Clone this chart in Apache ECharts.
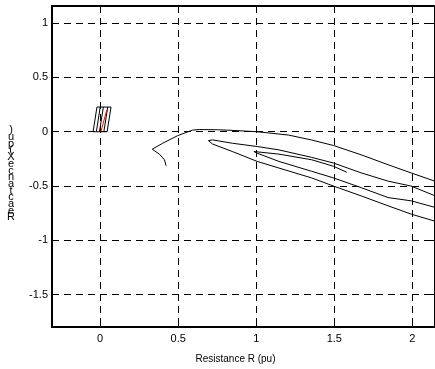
<!DOCTYPE html>
<html>
<head>
<meta charset="utf-8">
<script src="https://cdn.jsdelivr.net/npm/echarts@6/dist/echarts.min.js"></script>
<style>
  html, body { margin: 0; padding: 0; background: #fff; }
  #chart { width: 435px; height: 369px; }
</style>
</head>
<body>
<div id="chart"></div>
<script>
// Axis extents (pu)
const xMin = -0.308, xMax = 2.145;
const yMin = -1.797, yMax = 1.157;

const xTitle = 'Resistance R (pu)';
const yTitle = 'Reactance X (pu)';

// Apparent impedance trajectory: resistance and reactance samples (pu)
const trajR = [
  0.423, 0.412, 0.380, 0.334, 0.401, 0.497, 0.592, 0.635, 0.75, 0.826,
  1.006, 1.208, 1.355, 1.495, 1.673, 1.845, 1.992, 2.132,
  2.25, 2.29, 2.25,
  2.132, 1.992, 1.845, 1.673, 1.495, 1.355, 1.145, 1.006, 0.847, 0.72,
  0.694,
  0.72, 0.847, 1.006, 1.145, 1.355, 1.495, 1.673, 1.845, 1.992, 2.132,
  2.25, 2.29, 2.25,
  2.132, 1.992, 1.845, 1.673, 1.495, 1.355, 1.145, 1.006,
  0.985,
  1.145, 1.355, 1.495, 1.58
];
const trajX = [
  -0.313, -0.258, -0.206, -0.161, -0.106, -0.036, 0.015, 0.020, 0.018, 0.014,
  0.0, -0.031, -0.076, -0.127, -0.213, -0.304, -0.379, -0.449,
  -0.508, -0.58, -0.65,
  -0.582, -0.5, -0.455, -0.379, -0.288, -0.236, -0.167, -0.136, -0.106, -0.075,
  -0.082,
  -0.113, -0.182, -0.273, -0.334, -0.425, -0.5, -0.591, -0.682, -0.758, -0.818,
  -0.869, -0.80, -0.737,
  -0.691, -0.636, -0.606, -0.515, -0.425, -0.364, -0.273, -0.197,
  -0.182,
  -0.206, -0.258, -0.318, -0.373
];

// Relay zone (quadrilateral characteristic) outline
const zoneR = [-0.045, 0.045, 0.070, -0.020, -0.045];
const zoneX = [0.0, 0.0, 0.227, 0.227, 0.0];

// Inner hatch lines of the zone: [R bottom, R top]
const hatchBottomR = [-0.024, -0.004, 0.024];
const hatchTopR = [0.001, 0.021, 0.049];
const hatchX = [0.0, 0.227];

// Line impedance segment (red)
const lineR = [0.005, 0.043];
const lineX = [0.0, 0.200];

function pairs(a, b) { return a.map((v, i) => [v, b[i]]); }

const chart = echarts.init(document.getElementById('chart'));
const FONT = 'Liberation Sans, Arial, sans-serif';

const blackLine = (name, data, color) => ({
  name, type: 'line', data,
  showSymbol: false, symbol: 'none', silent: true,
  lineStyle: { color: color || '#000', width: 1 },
  animation: false, z: 3
});

const series = [
  blackLine('zone', pairs(zoneR, zoneX)),
  ...hatchBottomR.map((r, i) =>
    blackLine('hatch' + i, [[r, hatchX[0]], [hatchTopR[i], hatchX[1]]])),
  blackLine('line', pairs(lineR, lineX), '#ff0000'),
  blackLine('trajectory', pairs(trajR, trajX))
];

const frameLine = { show: true, onZero: false, lineStyle: { color: '#000', width: 2 } };
const inTick = { show: true, inside: true, length: 5, lineStyle: { color: '#000', width: 1 } };
const dashed = { show: true, lineStyle: { color: '#000', width: 1, type: [7, 5] } };

chart.setOption({
  animation: false,
  backgroundColor: '#fff',
  grid: { left: 52, top: 6, width: 385, height: 325, show: false },
  xAxis: [
    {
      type: 'value', min: xMin, max: xMax, position: 'bottom',
      axisLine: frameLine, axisTick: inTick, splitLine: dashed,
      axisLabel: { margin: 6, fontSize: 11, color: '#000', fontFamily: FONT,
                   showMinLabel: false, showMaxLabel: false },
      name: xTitle, nameLocation: 'middle', nameGap: 27,
      nameTextStyle: { fontSize: 10, color: '#000', fontFamily: FONT, padding: [0, 16, 0, 0] }
    },
    {
      type: 'value', min: xMin, max: xMax, position: 'top',
      axisLine: frameLine, axisTick: inTick, splitLine: { show: false },
      axisLabel: { show: false }
    }
  ],
  yAxis: [
    {
      type: 'value', min: yMin, max: yMax, position: 'left',
      axisLine: frameLine, axisTick: inTick, splitLine: dashed,
      axisLabel: { margin: 4, fontSize: 11, color: '#000', fontFamily: FONT,
                   showMinLabel: false, showMaxLabel: false }
    },
    {
      type: 'value', min: yMin, max: yMax, position: 'right',
      axisLine: frameLine, axisTick: inTick, splitLine: { show: false },
      axisLabel: { show: false }
    }
  ],
  graphic: [{
    type: 'text', x: 11, y: 127, silent: true,
    style: {
      text: yTitle.replace(/ /g, '').split('').reverse().join('\n'),
      font: '11px ' + FONT, lineHeight: 6.7,
      align: 'center', verticalAlign: 'top', fill: '#000'
    }
  }],
  series
});
</script>
</body>
</html>
